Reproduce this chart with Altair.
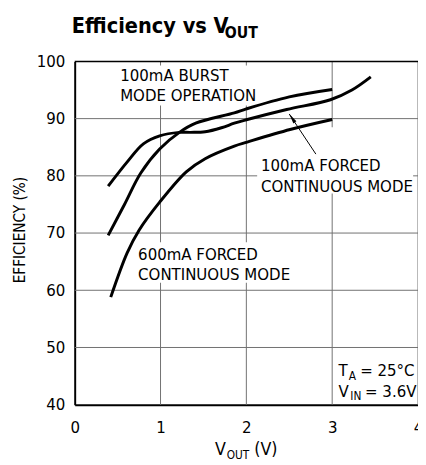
import altair as alt
import pandas as pd

FONT = "DejaVu Sans Condensed, Liberation Sans, sans-serif"

# ---- data ----
# 100mA forced continuous mode (curve with the plateau, continues to 3.45V)
vout_fc100 = [0.39, 0.61, 0.80, 0.99, 1.22, 1.35, 1.52, 1.71, 1.86, 2.00, 2.47, 2.98, 3.23, 3.45]
eff_fc100 = [78.2, 82.4, 85.6, 87.0, 87.6, 87.6, 87.7, 88.4, 89.2, 89.8, 91.6, 93.3, 95.0, 97.3]
# 100mA Burst Mode operation
vout_burst = [0.39, 0.58, 0.77, 0.99, 1.22, 1.41, 1.86, 2.00, 2.50, 3.00]
eff_burst = [69.6, 75.0, 80.5, 84.7, 87.6, 89.2, 91.0, 91.7, 93.8, 95.1]
# 600mA forced continuous mode
vout_fc600 = [0.42, 0.61, 0.75, 0.99, 1.30, 1.52, 1.86, 2.01, 2.51, 3.00]
eff_fc600 = [58.8, 66.5, 70.5, 75.4, 80.7, 83.0, 85.2, 85.9, 88.1, 89.85]

x_ticks = [0, 1, 2, 3, 4]
y_ticks = [40, 50, 60, 70, 80, 90, 100]

# annotation text pieces (data coordinates)
ann_text = ["100mA BURST", "MODE OPERATION",
            "100mA FORCED", "CONTINUOUS MODE",
            "600mA FORCED", "CONTINUOUS MODE",
            "T", "A", "= 25°C", "V", "IN", "= 3.6V"]
ann_x = [0.53, 0.53, 2.17, 2.17, 0.739, 0.739,
         3.074, 3.194, 3.326, 3.074, 3.211, 3.383]
ann_y = [96.62, 93.02, 80.92, 77.2, 65.25, 61.82,
         45.09, 44.28, 45.09, 41.37, 40.77, 41.37]
ann_size = [17, 17, 17, 17, 17, 17,
            17, 12, 17, 17, 12, 17]

# white label backgrounds (data coordinates)
box_x = [0.48, 2.126, 0.697]
box_x2 = [2.126, 3.943, 2.56]
box_y = [99.3, 88.5, 68.4]
box_y2 = [92.3, 76.9, 61.3]

# arrow (tail -> tip)
arrow_x = [2.81, 2.50]
arrow_y = [83.8, 90.8]
head_x = [2.532]
head_y = [90.09]

# ---- build tables ----
curves = pd.concat([
    pd.DataFrame({"vout": vout_fc100, "eff": eff_fc100, "series": "100mA forced"}),
    pd.DataFrame({"vout": vout_burst, "eff": eff_burst, "series": "100mA burst"}),
    pd.DataFrame({"vout": vout_fc600, "eff": eff_fc600, "series": "600mA forced"}),
])
ann = pd.DataFrame({"x": ann_x, "y": ann_y, "text": ann_text, "size": ann_size})
boxes = pd.DataFrame({"x": box_x, "x2": box_x2, "y": box_y, "y2": box_y2})
arrow = pd.DataFrame({"x": arrow_x, "y": arrow_y})
head = pd.DataFrame({"x": head_x, "y": head_y})
vgrid = pd.DataFrame({"x": x_ticks[1:]})
hgrid = pd.DataFrame({"y": y_ticks[1:-1]})

xs = alt.Scale(domain=[0, 4], nice=False, zero=False)
ys = alt.Scale(domain=[40, 100], nice=False, zero=False)

x_axis = alt.Axis(values=x_ticks, title=None, grid=False, ticks=False, tickSize=0,
                  labelPadding=15, format="d", domainColor="black", domainWidth=2,
                  labelFont=FONT, labelFontSize=17,
                  labelColor="black", labelFlush=False)
y_axis = alt.Axis(values=y_ticks, title=None, grid=False, ticks=False, tickSize=0,
                  labelPadding=10, format="d", domainColor="black", domainWidth=2,
                  labelFont=FONT, labelFontSize=17,
                  labelColor="black", labelFlush=False)


def X(field):
    return alt.X(field, scale=xs, axis=x_axis)


def Y(field):
    return alt.Y(field, scale=ys, axis=y_axis)


GRID = "#707070"
vg = alt.Chart(vgrid).mark_rule(color=GRID, strokeWidth=1).encode(x=X("x:Q"))
hg = alt.Chart(hgrid).mark_rule(color=GRID, strokeWidth=1).encode(y=Y("y:Q"))

bg = alt.Chart(boxes).mark_rect(color="white", opacity=1).encode(
    x=X("x:Q"), x2="x2:Q", y=Y("y:Q"), y2="y2:Q")

lines = alt.Chart(curves).mark_line(color="black", strokeWidth=3, interpolate="catmull-rom",
                                    strokeCap="butt").encode(
    x=X("vout:Q"), y=Y("eff:Q"), detail="series:N")

top = alt.Chart(pd.DataFrame({"y": [y_ticks[-1]]})).mark_rule(color="black", strokeWidth=1.5).encode(
    y=Y("y:Q"))

arrow_line = alt.Chart(arrow).mark_line(color="black", strokeWidth=1).encode(
    x=X("x:Q"), y=Y("y:Q"))

arrow_head = alt.Chart(head).mark_point(shape="M0,-1L0.35,1L-0.35,1Z", filled=True, size=110,
                                        angle=326, color="black", opacity=1).encode(
    x=X("x:Q"), y=Y("y:Q"))

labels = alt.Chart(ann).mark_text(align="left", baseline="alphabetic", font=FONT,
                                  color="black").encode(
    x=X("x:Q"), y=Y("y:Q"),
    text="text:N", size=alt.Size("size:Q", scale=None, legend=None))

# outside texts (title, axis titles) positioned relative to the plot area
outside = [
    # text, px, py, size, weight, angle, align
    ("Efficiency vs V", -3, -28.7, 22, "bold", 0, "left"),
    ("OUT", 153, -23.7, 16, "bold", 0, "left"),
    ("V", 143, 401, 18, "normal", 0, "left"),
    ("OUT", 155, 405, 12, "normal", 0, "left"),
    ("(V)", 183, 401, 18, "normal", 0, "left"),
    ("EFFICIENCY (%)", -56, 172, 15.5, "normal", 270, "center"),
]
out_layers = []
for t, px, py, sz, wt, ang, al in outside:
    kw = dict(align=al, font=FONT, fontSize=sz, fontWeight=wt, color="black")
    if ang:
        kw["angle"] = ang
        kw["baseline"] = "middle"
    else:
        kw["baseline"] = "alphabetic"
    out_layers.append(
        alt.Chart(alt.Data(values=[{}])).mark_text(**kw).encode(
            x=alt.value(px), y=alt.value(py), text=alt.value(t)))

chart = alt.layer(vg, hg, bg, lines, top, arrow_line, arrow_head, labels, *out_layers).properties(
    width=350, height=350,
    autosize=alt.AutoSizeParams(type="none"),
    padding={"left": 68, "top": 50, "right": 0, "bottom": 56},
).configure_view(stroke=None)

chart.save("out.html", embed_options={"renderer": "svg", "actions": False})
